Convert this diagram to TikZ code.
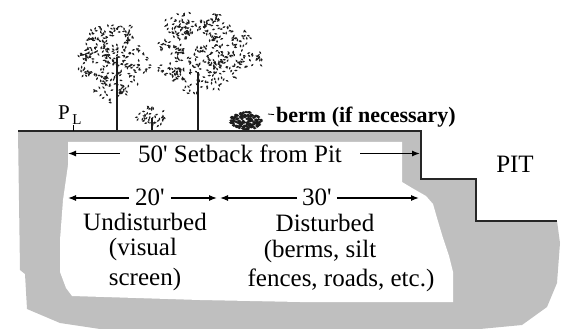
\documentclass[tikz,border=0pt]{standalone}
\usepackage{fontspec}
\setmainfont{Liberation Serif}
\usetikzlibrary{arrows.meta}
\definecolor{soil}{RGB}{191,191,191}
\definecolor{leaf}{RGB}{28,28,28}

\begin{document}
\begin{tikzpicture}[x=1pt,y=-1pt,
    ground/.style={line width=1.6pt, black!85},
    dim/.style={line width=1.3pt, -{Latex[length=8pt,width=6pt]}},
    lbl/.style={font=\fontsize{25}{29}\selectfont, inner sep=0pt, anchor=base}]
\useasboundingbox (0,0) rectangle (566,329);

    % Soil below the ground line, then the cleared strip on top of it
    \fill[soil] (18,131) -- (421,131) -- (421,179) -- (476,179) -- (476,221)
        -- (557,221) -- (560,243) -- (557,283) -- (547,307) -- (522,325)
        -- (480,329) -- (100,329) -- (60,323) -- (27,309) -- (25,274)
        -- (20,270) -- cycle;
    \fill[white] (68,142) -- (402,142) -- (402,182) -- (412,188) -- (426,196)
        -- (433,204) -- (437,218) -- (443,238) -- (449,256) -- (453,272)
        -- (453,302) -- (300,302) -- (200,300) -- (72,296) -- (66,288)
        -- (60,272) -- (60,240) -- (63,200) -- (68,165) -- cycle;

    % Trunks
    \draw[leaf, line width=1.4pt] (117,57) -- (117,131);
    \draw[leaf, line width=1.4pt] (198,72) -- (198,131);
    \draw[leaf, line width=1.2pt] (152,118) -- (152,131);

    % Foliage: loose clumps of small specks around each crown
    \pgfmathsetseed{11}
    \foreach \x/\y/\rx/\ry/\n in {113/62/35/37/75, 200/52/43/39/95, 248/58/12/24/10, 151/118/13/7/10} {
        \foreach \i in {1,...,\n} {
            \pgfmathsetmacro{\a}{360*rnd}
            \pgfmathsetmacro{\r}{sqrt(rnd)}
            \pgfmathsetmacro{\cx}{\x+\rx*\r*cos(\a)}
            \pgfmathsetmacro{\cy}{\y+\ry*\r*sin(\a)}
            \foreach \j in {1,...,4} {
                \pgfmathsetmacro{\px}{\cx+10*rnd-5}
                \pgfmathsetmacro{\py}{\cy+10*rnd-5}
                \pgfmathsetmacro{\b}{180*rnd}
                \fill[leaf, rotate around={\b:(\px,\py)}] (\px,\py) ellipse (1.7 and 0.85);
            }
        }
    }

    % Berm: a dense dark heap
    \foreach \i in {1,...,140} {
        \pgfmathsetmacro{\a}{360*rnd}
        \pgfmathsetmacro{\r}{sqrt(rnd)}
        \pgfmathsetmacro{\px}{246+16*\r*cos(\a)}
        \pgfmathsetmacro{\py}{121+9*\r*sin(\a)}
        \fill[leaf] (\px,\py) ellipse (1.9 and 1.3);
    }

    % Ground line stepping down into the pit
    \draw[ground] (18,131) -- (421,131) -- (421,179) -- (476,179) -- (476,221) -- (557,221);

    % Property line mark
    \node[font=\fontsize{21}{21}\selectfont, inner sep=0pt, anchor=base] (plp) at (64,120) {P};
    \node[font=\fontsize{15}{15}\selectfont, inner sep=0pt, anchor=base] (pll) at (77,125) {L};
    \coordinate (plfoot) at (73.5,131);
    \draw[line width=0.9pt] (plfoot) -- ++(0,-6);

    % Labels
    \node[font=\bfseries\fontsize{22}{26}\selectfont, inner sep=0pt, anchor=base] (bermlabel) at (366,123) {berm (if necessary)};
    \coordinate (bermtick) at (268,114);
    \draw[line width=0.8pt] ([shift={(-2pt,3pt)}]bermlabel.west) -- (bermtick);

    \node[lbl] (pit) at (515,173) {PIT};

    \node[lbl, inner xsep=18pt] (setback) at (240,163) {50\textquotesingle\ Setback from Pit};
    \coordinate (sbl) at (68,153.5);
    \coordinate (sbr) at (420,153.5);
    \draw[dim] (setback.west |- sbl) -- (sbl);
    \draw[dim] (setback.east |- sbr) -- (sbr);

    \node[lbl, inner xsep=6pt] (twenty) at (150,206) {20\textquotesingle};
    \node[lbl, inner xsep=5pt] (thirty) at (317,206) {30\textquotesingle};
    \coordinate (twl) at (68,198);
    \coordinate (twr) at (217,198);
    \coordinate (thl) at (220,198);
    \coordinate (thr) at (419,198);
    \draw[dim] (twenty.west |- twl) -- (twl);
    \draw[dim] (twenty.east |- twr) -- (twr);
    \draw[dim] (thirty.west |- thl) -- (thl);
    \draw[dim] (thirty.east |- thr) -- (thr);

    \node[lbl] (und1) at (145,230) {Undisturbed};
    \node[lbl] (und2) at (143,255) {(visual};
    \node[lbl] (und3) at (145,285) {screen)};
    \node[lbl] (dis1) at (325,232) {Disturbed};
    \node[lbl] (dis2) at (320,258) {(berms, silt};
    \node[lbl] (dis3) at (341,287) {fences, roads, etc.)};

\end{tikzpicture}
\end{document}
